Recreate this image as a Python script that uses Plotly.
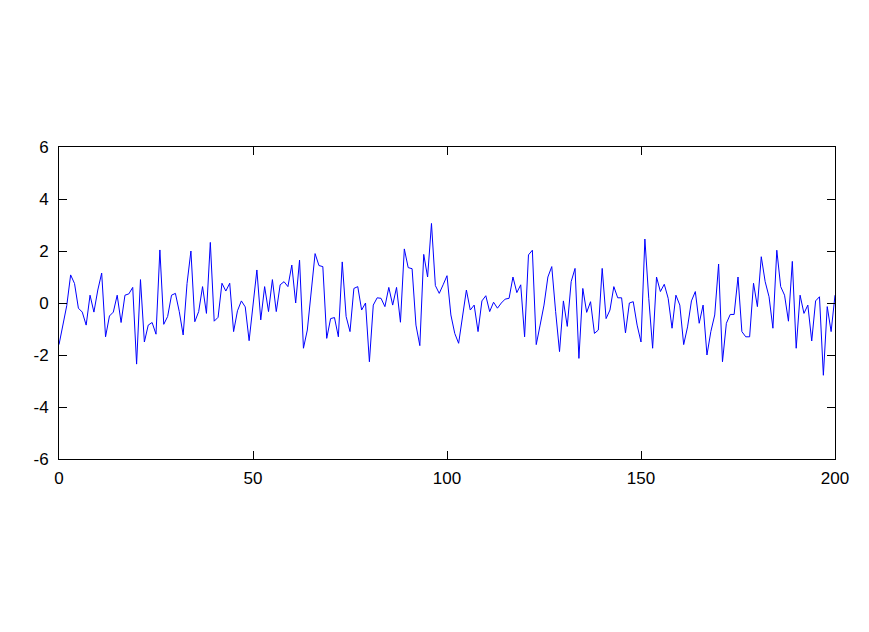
import plotly.graph_objects as go

x_values = list(range(201))
y_values = [
    -1.6, -0.85, -0.1, 1.08, 0.75, -0.2, -0.35, -0.85, 0.3, -0.35,
    0.5, 1.15, -1.3, -0.5, -0.35, 0.3, -0.75, 0.3, 0.35, 0.6,
    -2.35, 0.9, -1.5, -0.85, -0.75, -1.2, 2.04, -0.82, -0.52, 0.3,
    0.37, -0.33, -1.23, 0.75, 2.0, -0.72, -0.33, 0.63, -0.4, 2.33,
    -0.7, -0.55, 0.76, 0.46, 0.76, -1.1, -0.3, 0.08, -0.15, -1.45,
    -0.05, 1.27, -0.65, 0.63, -0.33, 0.9, -0.33, 0.7, 0.82, 0.63,
    1.46, 0.0, 1.65, -1.74, -1.04, 0.44, 1.9, 1.44, 1.4, -1.36,
    -0.6, -0.56, -1.3, 1.58, -0.52, -1.1, 0.56, 0.63, -0.27, 0.0,
    -2.26, -0.08, 0.2, 0.18, -0.14, 0.6, -0.08, 0.6, -0.74, 2.08,
    1.36, 1.32, -0.85, -1.64, 1.87, 1.0, 3.06, 0.67, 0.37, 0.7,
    1.05, -0.46, -1.17, -1.55, -0.52, 0.5, -0.27, -0.08, -1.1, 0.08,
    0.28, -0.33, 0.03, -0.2, 0.0, 0.15, 0.18, 1.0, 0.4, 0.7,
    -1.3, 1.85, 2.03, -1.6, -0.85, -0.08, 1.0, 1.4, -0.33, -1.87,
    0.08, -0.9, 0.82, 1.33, -2.13, 0.56, -0.36, 0.05, -1.17, -1.04,
    1.33, -0.6, -0.27, 0.63, 0.2, 0.2, -1.15, 0.0, 0.05, -0.85,
    -1.5, 2.46, 0.18, -1.74, 1.0, 0.44, 0.72, 0.18, -0.97, 0.3,
    -0.08, -1.6, -0.92, 0.08, 0.44, -0.78, -0.08, -2.0, -1.1, -0.46,
    1.5, -2.26, -0.78, -0.44, -0.44, 1.0, -1.1, -1.3, -1.3, 0.76,
    -0.14, 1.78, 0.82, 0.24, -0.97, 2.03, 0.63, 0.3, -0.7, 1.6,
    -1.74, 0.3, -0.4, -0.08, -1.46, 0.08, 0.24, -2.78, -0.14, -1.1,
    0.3,
]
x_ticks = [0, 50, 100, 150, 200]
y_ticks = [-6, -4, -2, 0, 2, 4, 6]
y_tick_labels = ["-6", "-4", "-2", "0", "2", "4", "6"]

fig = go.Figure(go.Scatter(
    x=x_values, y=y_values, mode="lines",
    line=dict(color="#0000FF", width=1),
    hoverinfo="skip",
))

axis_common = dict(
    showline=True, linecolor="black", linewidth=1, mirror="ticks",
    ticks="inside", ticklen=8, tickwidth=1, tickcolor="black",
    showgrid=False, zeroline=False,
    tickfont=dict(family="Liberation Sans, Arial, sans-serif", size=17, color="black"),
)

fig.update_layout(
    width=853, height=616,
    margin=dict(l=51, r=22, t=139, b=165),
    paper_bgcolor="white", plot_bgcolor="white",
    showlegend=False,
    xaxis=dict(range=[0, 200], tickvals=x_ticks, ticklabelstandoff=4, **axis_common),
    yaxis=dict(range=[-6, 6], tickvals=y_ticks, ticktext=y_tick_labels,
               ticklabelstandoff=6, **axis_common),
)

fig.write_html("out.html")
